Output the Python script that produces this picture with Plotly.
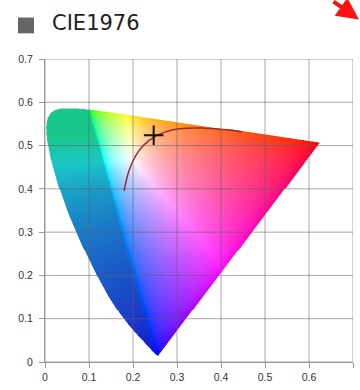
import numpy as np
import plotly.graph_objects as go

# CIE 1931 2-degree spectral locus (chromaticity x, y)
wavelength_nm = [380, 390, 400, 410, 420, 430, 440, 445, 450, 455, 460, 465, 470, 475,
                 480, 485, 490, 495, 500, 505, 510, 515, 520, 525, 530, 535, 540, 545,
                 550, 555, 560, 565, 570, 575, 580, 585, 590, 595, 600, 605, 610, 620,
                 630, 640, 650, 660, 680, 700]
locus_x = [0.1741, 0.1738, 0.1733, 0.1726, 0.1714, 0.1689, 0.1644, 0.1611, 0.1566, 0.1510,
           0.1440, 0.1355, 0.1241, 0.1096, 0.0913, 0.0687, 0.0454, 0.0235, 0.0082, 0.0039,
           0.0139, 0.0389, 0.0743, 0.1142, 0.1547, 0.1929, 0.2296, 0.2658, 0.3016, 0.3373,
           0.3731, 0.4087, 0.4441, 0.4788, 0.5125, 0.5448, 0.5752, 0.6029, 0.6270, 0.6482,
           0.6658, 0.6915, 0.7079, 0.7190, 0.7260, 0.7300, 0.7334, 0.7347]
locus_y = [0.0050, 0.0049, 0.0048, 0.0048, 0.0051, 0.0069, 0.0109, 0.0138, 0.0177, 0.0227,
           0.0297, 0.0399, 0.0578, 0.0868, 0.1327, 0.2007, 0.2950, 0.4127, 0.5384, 0.6548,
           0.7502, 0.8120, 0.8338, 0.8262, 0.8059, 0.7816, 0.7543, 0.7243, 0.6923, 0.6589,
           0.6245, 0.5896, 0.5547, 0.5202, 0.4866, 0.4544, 0.4242, 0.3965, 0.3725, 0.3514,
           0.3340, 0.3083, 0.2920, 0.2809, 0.2740, 0.2700, 0.2666, 0.2653]

# Planckian locus in u'v' (1000 K ... infinity)
cct_k = ["1000K", "1200K", "1500K", "2000K", "2500K", "3000K", "4000K", "5000K",
         "6500K", "10000K", "20000K", "∞"]
planck_u = [0.4480, 0.4060, 0.3580, 0.3050, 0.2722, 0.2505, 0.2251, 0.2114,
            0.2004, 0.1903, 0.1839, 0.1800]
planck_v = [0.5320, 0.5369, 0.5405, 0.5386, 0.5311, 0.5214, 0.5016, 0.4847,
            0.4656, 0.4400, 0.4156, 0.3953]

# measured chromaticity point
point_u = [0.2470]
point_v = [0.5240]

tick_vals = [0, 0.1, 0.2, 0.3, 0.4, 0.5, 0.6, 0.7]
tick_text = ["0", "0.1", "0.2", "0.3", "0.4", "0.5", "0.6", "0.7"]

# display primaries / white (u'v') used to shade the gamut fill
prim_u = [0.620, 0.100, 0.257]
prim_v = [0.505, 0.585, 0.016]
white_u, white_v = 0.1978, 0.4683


def xy_to_uv(x, y):
    d = -2 * x + 12 * y + 3
    return 4 * x / d, 9 * y / d


def uv_to_xyz(u, v):
    d = 6 * u - 16 * v + 12
    x = 9 * u / d
    y = np.maximum(4 * v / d, 1e-6)
    return np.stack([x / y, np.ones_like(x), (1 - x - y) / y])


lu, lv = xy_to_uv(np.array(locus_x), np.array(locus_y))

# raster grid (one cell per screen pixel, 2x supersampled)
step = 0.7 / 308
ss = 2
nu, nv = int(0.66 / step) + 1, int(0.61 / step) + 1
fine = step / ss
uu = np.arange(nu * ss) * fine - step / 2 + fine / 2
vv = np.arange(nv * ss) * fine - step / 2 + fine / 2
U, V = np.meshgrid(uu, vv)

# inside test against the closed spectral locus
inside = np.zeros(U.shape, dtype=bool)
pu = np.append(lu, lu[0])
pv = np.append(lv, lv[0])
for i in range(len(pu) - 1):
    u1, v1, u2, v2 = pu[i], pv[i], pu[i + 1], pv[i + 1]
    cond = (v1 > V) != (v2 > V)
    with np.errstate(divide="ignore", invalid="ignore"):
        xc = (u2 - u1) * (V - v1) / (v2 - v1) + u1
    inside ^= cond & (U < xc)

# colour: XYZ -> display RGB, clip negatives, normalise to max
P = uv_to_xyz(np.array(prim_u), np.array(prim_v))
W = uv_to_xyz(np.array([white_u]), np.array([white_v]))[:, 0]
S = np.linalg.solve(P, W)
M_inv = np.linalg.inv(P * S)
XYZ = uv_to_xyz(U, V)
rgb = np.tensordot(M_inv, XYZ, axes=1)
neg = np.clip(-rgb.min(axis=0), 0, None)
mx = np.maximum(rgb.max(axis=0), 1e-6)
rgb = np.clip(rgb, 0, None) / mx
rgb = np.where(rgb <= 0.0031308, 12.92 * rgb, 1.055 * np.power(rgb, 1 / 2.4) - 0.055)

# out-of-gamut side: muted teal / blue tones
g_out = 0.78 * rgb[1]
b_out = np.maximum(0.78 * rgb[2], 0.7 * g_out)
r_out = np.full_like(g_out, 0.1)
w = np.clip(neg / mx * 25, 0, 1)
rgb = (1 - w) * rgb + w * np.stack([r_out, g_out, b_out])

alpha = inside.astype(float)
rgba = np.concatenate([rgb * alpha, alpha[None]], axis=0)
rgba = rgba.reshape(4, nv, ss, nu, ss).mean(axis=(2, 4))
a = np.maximum(rgba[3], 1e-6)
img = np.zeros((nv, nu, 4))
img[..., :3] = np.round(np.clip(rgba[:3] / a, 0, 1).transpose(1, 2, 0) * 255)
img[..., 3] = rgba[3]

fig = go.Figure()
fig.add_trace(go.Image(z=img, colormodel="rgba", x0=0, dx=step, y0=0, dy=step,
                       hoverinfo="skip"))
fig.add_trace(go.Scatter(x=planck_u, y=planck_v, mode="lines", text=cct_k,
                         line=dict(color="#9a2a35", width=1.5, shape="spline"),
                         showlegend=False))
fig.add_trace(go.Scatter(x=point_u, y=point_v, mode="markers",
                         marker=dict(symbol="cross-thin", size=14,
                                     line=dict(color="#111", width=2)),
                         showlegend=False))

# grid drawn over the colour fill
shapes = []
for t in tick_vals:
    shapes.append(dict(type="line", xref="x", yref="y", x0=t, x1=t, y0=0, y1=0.7,
                       line=dict(color="rgba(95,95,95,0.55)", width=1), layer="above"))
    shapes.append(dict(type="line", xref="x", yref="y", x0=0, x1=0.7, y0=t, y1=t,
                       line=dict(color="rgba(95,95,95,0.55)", width=1), layer="above"))
# title marker square
shapes.append(dict(type="rect", xref="paper", yref="paper",
                   x0=(18 - 45) / 308, x1=(34 - 45) / 308,
                   y0=(366 - 33) / 307, y1=(366 - 17) / 307,
                   fillcolor="#666666", line=dict(width=0)))

axis = dict(range=[0, 0.7], tickvals=tick_vals, ticktext=tick_text, ticks="outside",
            ticklen=5, tickcolor="#999", showline=True, linecolor="#999",
            showgrid=False, zeroline=False,
            tickfont=dict(family="Liberation Sans, Arial", size=10.5, color="#333"))

fig.update_layout(
    width=360, height=390,
    margin=dict(l=45, r=7, t=59, b=24),
    paper_bgcolor="white", plot_bgcolor="white",
    xaxis=axis,
    yaxis=dict(axis, scaleanchor=False, autorange=False, ticklabelstandoff=4),
    shapes=shapes,
    annotations=[
        dict(text="CIE1976", xref="paper", yref="paper", x=(50 - 45) / 308,
             y=(366 - 23) / 307, xanchor="left", yanchor="middle", showarrow=False,
             font=dict(family="DejaVu Sans", size=21, color="#222")),
        dict(text="", xref="paper", yref="paper", x=(362 - 45) / 308,
             y=(366 - 19) / 307, ax=-30, ay=-19, showarrow=True, arrowhead=2,
             arrowsize=1.1, arrowwidth=4, arrowcolor="#ff1010"),
    ],
    showlegend=False,
)

fig.write_html("out.html")
